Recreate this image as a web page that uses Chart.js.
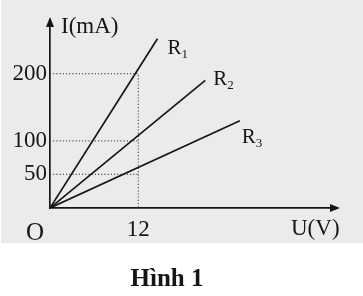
<!DOCTYPE html>
<html>
<head>
<meta charset="utf-8">
<script src="https://cdn.jsdelivr.net/npm/chart.js@4"></script>
<style>
  html, body { margin: 0; padding: 0; background: #fff; }
  canvas { display: block; }
</style>
</head>
<body>
<canvas id="myChart" width="363" height="296"></canvas>
<script>
// lines through the origin
const seriesNames = ['R1', 'R2', 'R3'];
const voltage = [[0, 14.6], [0, 21.1], [0, 25.8]];
const current = [[0, 252], [0, 190], [0, 130]];

// dotted helper lines
const guideU = [[0, 12, 12], [0, 12], [0, 12]];
const guideI = [[200, 200, 0], [100, 100], [50, 50]];

const xTicks = [12];
const yTicks = [50, 100, 200];

const serif = "'Liberation Serif', 'DejaVu Serif', serif";
const ink = '#161616';

function toPoints(us, is) {
    return us.map((u, k) => ({ x: u, y: is[k] }));
}

const datasets = [];
seriesNames.forEach((name, k) => {
    datasets.push({
        label: name,
        data: toPoints(voltage[k], current[k]),
        showLine: true,
        borderColor: ink,
        borderWidth: 1.7,
        pointRadius: 0
    });
});
guideU.forEach((us, k) => {
    datasets.push({
        label: 'guide' + k,
        data: toPoints(us, guideI[k]),
        showLine: true,
        borderColor: '#555',
        borderWidth: 1.2,
        borderDash: [1.2, 2],
        pointRadius: 0
    });
});

const decor = {
    id: 'decor',
    beforeDraw(chart) {
        const ctx = chart.ctx;
        ctx.save();
        ctx.fillStyle = '#ebebeb';
        ctx.fillRect(1, 0, 362, 243);
        ctx.restore();
    },
    afterDraw(chart) {
        const ctx = chart.ctx;
        const xs = chart.scales.x;
        const ys = chart.scales.y;
        const area = chart.chartArea;
        ctx.save();
        ctx.fillStyle = ink;

        // arrow heads
        ctx.beginPath();
        ctx.moveTo(area.left, area.top - 3);
        ctx.lineTo(area.left - 4, area.top + 7);
        ctx.lineTo(area.left + 4, area.top + 7);
        ctx.closePath();
        ctx.fill();
        ctx.beginPath();
        ctx.moveTo(area.right + 3, area.bottom);
        ctx.lineTo(area.right - 7, area.bottom - 4);
        ctx.lineTo(area.right - 7, area.bottom + 4);
        ctx.closePath();
        ctx.fill();

        // axis names and origin
        ctx.textBaseline = 'alphabetic';
        ctx.textAlign = 'left';
        ctx.font = '23px ' + serif;
        ctx.fillText('I(mA)', area.left + 11, 33);
        ctx.fillText('U(V)', 291, 235);
        ctx.font = '25px ' + serif;
        ctx.fillText('O', 26, 240);

        // series labels with subscripts
        const offsets = [[10, 15], [8, 5], [2, 22]];
        seriesNames.forEach((name, k) => {
            const px = xs.getPixelForValue(voltage[k][1]) + offsets[k][0];
            const py = ys.getPixelForValue(current[k][1]) + offsets[k][1];
            ctx.font = '21px ' + serif;
            ctx.fillText(name[0], px, py);
            const w = ctx.measureText(name[0]).width;
            ctx.font = '13px ' + serif;
            ctx.fillText(name.slice(1), px + w, py + 4);
        });

        // caption
        ctx.textAlign = 'center';
        ctx.font = 'bold 25px ' + serif;
        ctx.fillText('Hình 1', 167, 286);
        ctx.restore();
    }
};

const ctx = document.getElementById('myChart').getContext('2d');
const chart = new Chart(ctx, {
    type: 'scatter',
    data: { datasets: datasets },
    options: {
        responsive: false,
        animation: false,
        layout: { padding: { left: 0, right: 26, top: 20, bottom: 0 } },
        plugins: {
            legend: { display: false },
            tooltip: { enabled: false }
        },
        scales: {
            x: {
                type: 'linear',
                min: 0,
                max: 39,
                afterFit(scale) { scale.height = 88; },
                afterBuildTicks(scale) { scale.ticks = xTicks.map(v => ({ value: v })); },
                grid: { display: false, drawTicks: false },
                border: { display: true, color: ink, width: 1.7 },
                ticks: {
                    color: ink,
                    padding: 8,
                    maxRotation: 0,
                    font: { family: serif, size: 23 }
                }
            },
            y: {
                type: 'linear',
                min: 0,
                max: 280,
                afterFit(scale) { scale.width = 50; },
                afterBuildTicks(scale) { scale.ticks = yTicks.map(v => ({ value: v })); },
                grid: { display: false, drawTicks: false },
                border: { display: true, color: ink, width: 1.7 },
                ticks: {
                    color: ink,
                    padding: 3,
                    font: { family: serif, size: 23 }
                }
            }
        }
    },
    plugins: [decor]
});
</script>
</body>
</html>
